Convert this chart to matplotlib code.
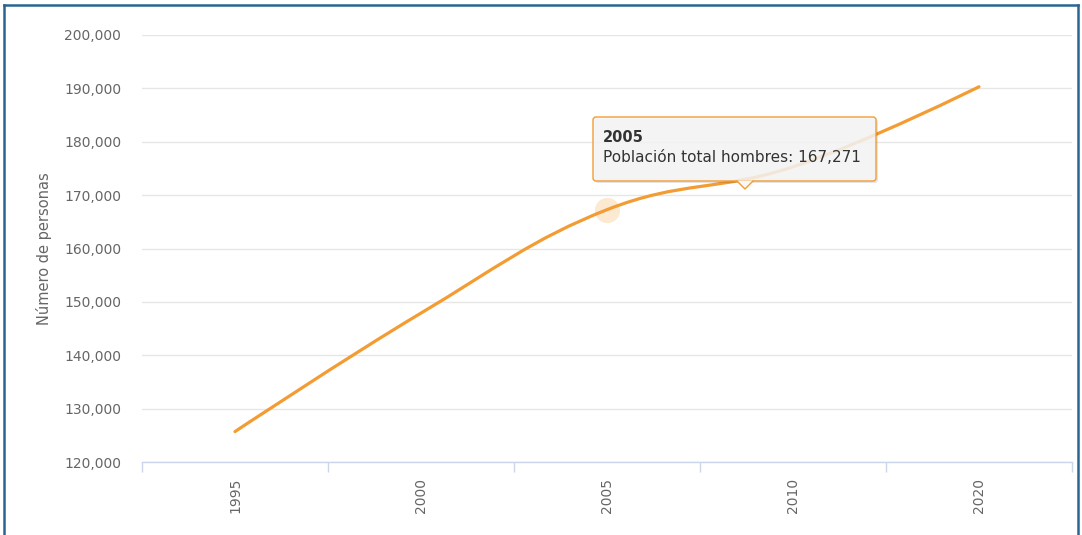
import numpy as np
import matplotlib
matplotlib.use("Agg")
from matplotlib import pyplot as plt
from matplotlib.path import Path
from matplotlib.patches import PathPatch, FancyBboxPatch, Polygon
from matplotlib.lines import Line2D
from matplotlib.transforms import IdentityTransform
from matplotlib.ticker import FuncFormatter, MultipleLocator, FixedLocator

# data
years = ["1995", "2000", "2005", "2010", "2020"]
hombres = [125700, 147900, 167271, 175300, 190300]
series_name = "Población total hombres"
hover_index = 2

W, H = 1082, 535
ORANGE = "#f39c33"
GREY_TXT = "#666666"


def spline_path(xs, ys, smoothing=1.5):
    # bezier control points the way highcharts builds its "spline" series
    n = len(xs)
    denom = smoothing + 1
    left = [(x, y) for x, y in zip(xs, ys)]
    right = list(left)
    for i in range(1, n - 1):
        x, y = xs[i], ys[i]
        lx = (smoothing * x + xs[i - 1]) / denom
        ly = (smoothing * y + ys[i - 1]) / denom
        rx = (smoothing * x + xs[i + 1]) / denom
        ry = (smoothing * y + ys[i + 1]) / denom
        corr = (ry - ly) * (rx - x) / (rx - lx) + y - ry
        ly += corr
        ry += corr
        if ly > ys[i - 1] and ly > y:
            ly = max(ys[i - 1], y); ry = 2 * y - ly
        elif ly < ys[i - 1] and ly < y:
            ly = min(ys[i - 1], y); ry = 2 * y - ly
        if ry > ys[i + 1] and ry > y:
            ry = max(ys[i + 1], y); ly = 2 * y - ry
        elif ry < ys[i + 1] and ry < y:
            ry = min(ys[i + 1], y); ly = 2 * y - ry
        left[i] = (lx, ly)
        right[i] = (rx, ry)
    verts = [(xs[0], ys[0])]
    codes = [Path.MOVETO]
    for i in range(1, n):
        verts += [right[i - 1], left[i], (xs[i], ys[i])]
        codes += [Path.CURVE4] * 3
    return Path(verts, codes)


fig = plt.figure(figsize=(W / 100, H / 100), dpi=100)
ax = fig.add_axes([142 / W, 1 - 462 / H, (1072 - 142) / W, (462 - 35) / H])

x = np.arange(len(years))
ax.set_xlim(-0.5, len(years) - 0.5)
ax.set_ylim(120000, 200000)

path = spline_path(list(x.astype(float)), [float(v) for v in hombres])
ax.add_patch(PathPatch(path, fill=False, edgecolor=ORANGE, lw=2.3,
                       capstyle="round", joinstyle="round", zorder=3))

# hover halo
ax.scatter([x[hover_index]], [hombres[hover_index]], s=330, color=ORANGE,
           alpha=0.22, lw=0, zorder=2)

# axes styling
for s in ["left", "right", "top"]:
    ax.spines[s].set_visible(False)
ax.spines["bottom"].set_color("#ccd6eb")
ax.spines["bottom"].set_linewidth(1)

ax.yaxis.set_major_locator(MultipleLocator(10000))
ax.yaxis.set_major_formatter(FuncFormatter(lambda v, p: f"{int(v):,}"))
ax.grid(axis="y", color="#e6e6e6", lw=1)
ax.set_axisbelow(True)
ax.tick_params(axis="y", length=0, pad=15, labelsize=10, labelcolor=GREY_TXT)

ax.set_xticks(x)
ax.set_xticklabels(years, rotation=90, va="top", ha="center")
ax.xaxis.set_minor_locator(FixedLocator(np.arange(-0.5, len(years), 1.0)))
ax.tick_params(axis="x", which="major", length=0, pad=11.5, labelsize=10,
               labelcolor=GREY_TXT)
ax.tick_params(axis="x", which="minor", length=7.2, width=1, color="#ccd6eb",
               direction="out")

ax.set_ylabel("Número de personas", fontsize=10.5, color=GREY_TXT)
ax.yaxis.set_label_coords(-0.097, 0.5)

# tooltip
ident = IdentityTransform()
bx0, by0, bx1, by1 = 593, 117, 876, 181
shadow = FancyBboxPatch((bx0 + 2, H - by1 - 2), bx1 - bx0, by1 - by0,
                        boxstyle="round,pad=0,rounding_size=3",
                        facecolor="#000000", alpha=0.10, lw=0,
                        transform=ident, zorder=10)
fig.add_artist(shadow)
box = FancyBboxPatch((bx0, H - by1), bx1 - bx0, by1 - by0,
                     boxstyle="round,pad=0,rounding_size=3",
                     facecolor="#f7f7f7", alpha=0.85, edgecolor="none",
                     transform=ident, zorder=11)
fig.add_artist(box)
edge = FancyBboxPatch((bx0, H - by1), bx1 - bx0, by1 - by0,
                      boxstyle="round,pad=0,rounding_size=3",
                      facecolor="none", edgecolor=ORANGE, lw=1,
                      transform=ident, zorder=12)
fig.add_artist(edge)
tip = Polygon([(737, H - by1 + 0.5), (745, H - 189), (753, H - by1 + 0.5)],
              closed=True, facecolor="#f7f7f7", edgecolor="none",
              transform=ident, zorder=13)
fig.add_artist(tip)
fig.add_artist(Line2D([737, 745, 753], [H - by1, H - 189, H - by1],
                      color=ORANGE, lw=1, transform=ident, zorder=13))

fig.text(603 / W, 1 - 137 / H, years[hover_index], fontsize=10.5,
         weight="bold", color="#333333", va="center", ha="left", zorder=14)
fig.text(603 / W, 1 - 157 / H, f"{series_name}: {hombres[hover_index]:,}",
         fontsize=11, color="#333333", va="center", ha="left", zorder=14)

# outer frame
frame = "#2a6592"
fig.add_artist(Line2D([4 / W, 4 / W], [0, 1 - 5 / H], color=frame, lw=1.8))
fig.add_artist(Line2D([4 / W, 1078 / W], [1 - 5 / H, 1 - 5 / H], color=frame, lw=1.8))
fig.add_artist(Line2D([1078 / W, 1078 / W], [0, 1 - 5 / H], color=frame, lw=1.8))

fig.savefig("out.png", dpi=100)
